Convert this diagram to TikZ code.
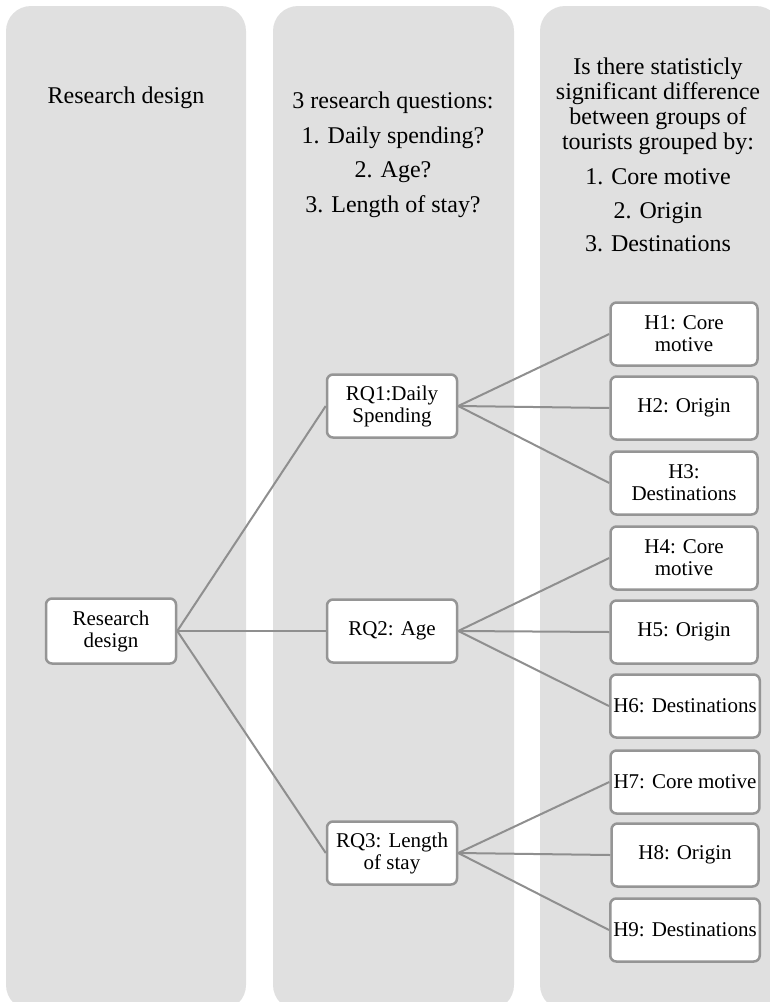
\documentclass[tikz,border=0pt]{standalone}
\usepackage{fontspec}
\setmainfont{Liberation Serif}
\definecolor{colfill}{HTML}{E0E0E0}
\definecolor{boxline}{HTML}{959595}
\definecolor{linkcol}{HTML}{8F8F8F}
\begin{document}
\begin{tikzpicture}[x=1pt,y=-1pt,
  col/.style={fill=colfill, draw=none, rounded corners=25pt},
  box/.style={draw=boxline, line width=2.5pt, fill=white, rounded corners=6pt,
    minimum height=63pt, align=center, inner sep=3pt,
    font=\fontsize{21}{22}\selectfont},
  rqbox/.style={box, minimum width=130pt},
  hbox/.style={box, minimum width=147pt},
  head/.style={align=center, inner sep=0pt},
  link/.style={draw=linkcol, line width=2pt}]
\useasboundingbox (0,0) rectangle (770,1002);
\clip (0,0) rectangle (770,1002);
% columns
\path[col] (6,6) rectangle (246,1010);
\path[col] (273,6) rectangle (514,1010);
\path[col] (540,6) rectangle (781,1010);
% headers
\node[head, font=\fontsize{24}{25}\selectfont] (t1) at (126,98) {Research design};
\node[head, font=\fontsize{24}{34.5}\selectfont] (t2) at (393,155) {3 research questions:\\1. Daily spending?\\2. Age?\\3. Length of stay?};
\node[head, font=\fontsize{24}{25}\selectfont] (t3) at (658,155) {Is there statisticly\\significant difference\\between groups of\\tourists grouped by:\\[10pt]1. Core motive\\[8.5pt]2. Origin\\[8.5pt]3. Destinations};
% nodes
\node[rqbox, minimum height=65pt] (rd) at (111,631) {Research\\design};
\node[rqbox] (rq1) at (392,406) {RQ1:Daily\\Spending};
\node[rqbox] (rq2) at (392,631) {RQ2: Age};
\node[rqbox] (rq3) at (392,853) {RQ3: Length\\of stay};
\node[hbox] (h1) at (684,334) {H1: Core\\motive};
\node[hbox] (h2) at (684,408) {H2: Origin};
\node[hbox] (h3) at (684,483) {H3:\\Destinations};
\node[hbox] (h4) at (684,558) {H4: Core\\motive};
\node[hbox] (h5) at (684,632) {H5: Origin};
\node[hbox] (h6) at (685,706) {H6: Destinations};
\node[hbox] (h7) at (685,782) {H7: Core motive};
\node[hbox] (h8) at (685,855) {H8: Origin};
\node[hbox] (h9) at (685,930) {H9: Destinations};
% connectors
\draw[link] (rd.east) -- (rq1.west);
\draw[link] (rd.east) -- (rq2.west);
\draw[link] (rd.east) -- (rq3.west);
\draw[link] (rq1.east) -- (h1.west);
\draw[link] (rq1.east) -- (h2.west);
\draw[link] (rq1.east) -- (h3.west);
\draw[link] (rq2.east) -- (h4.west);
\draw[link] (rq2.east) -- (h5.west);
\draw[link] (rq2.east) -- (h6.west);
\draw[link] (rq3.east) -- (h7.west);
\draw[link] (rq3.east) -- (h8.west);
\draw[link] (rq3.east) -- (h9.west);
\end{tikzpicture}
\end{document}
